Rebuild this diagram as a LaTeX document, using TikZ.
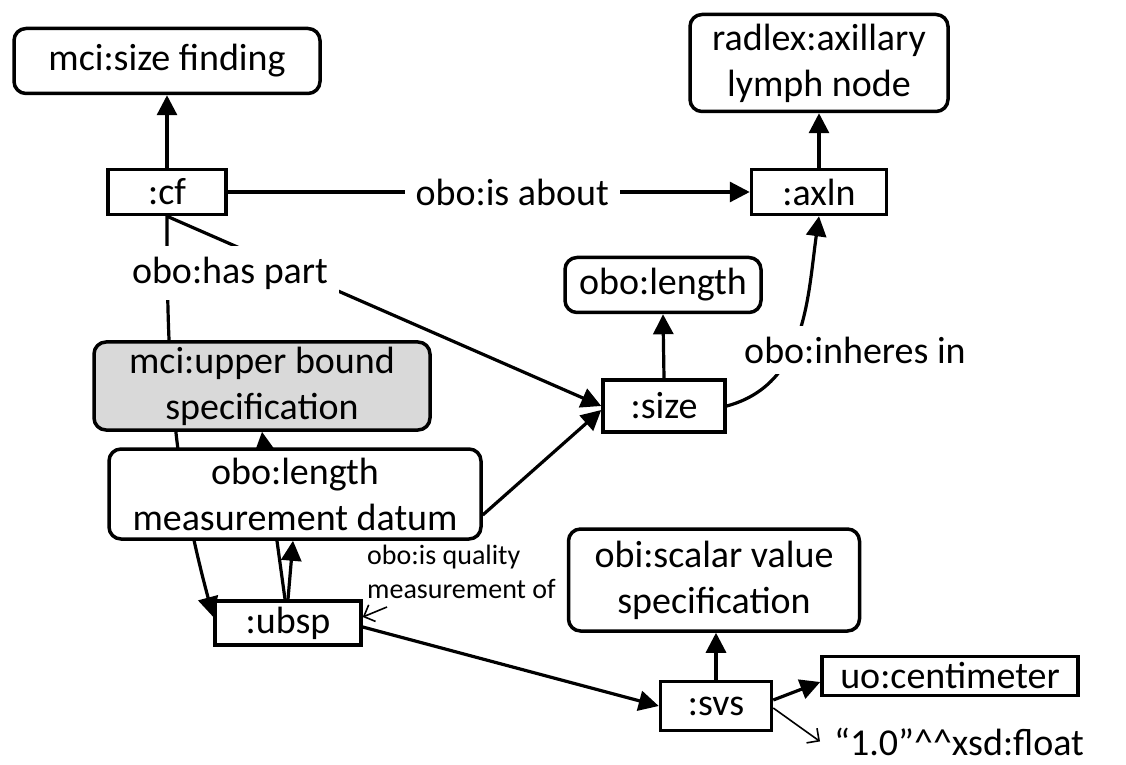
\documentclass[tikz,border=0pt]{standalone}
\usepackage{fontspec}
\setmainfont{Carlito}
\usetikzlibrary{arrows.meta,backgrounds}
\definecolor{boundgray}{HTML}{D9D9D9}
\begin{document}
\begin{tikzpicture}[x=1pt,y=1pt,
  big/.style={font=\fontsize{38}{46}\selectfont},
  box/.style={big,draw,line width=3.5pt,fill=white,inner sep=0pt,align=center},
  rbox/.style={box,rounded corners=12pt},
  lbl/.style={big,fill=white,inner sep=11pt},
  arr/.style={line width=3.2pt,-{Triangle[length=20pt,width=20pt]}},
  thinarr/.style={line width=1.6pt,-{Straight Barb[length=9pt,width=18pt]}}]
\useasboundingbox (0,0) rectangle (1126,764);

% classes and individuals
\node[rbox,minimum width=306pt,minimum height=65pt] (sizefinding) at (167,703) {mci:size finding};
\node[box,minimum width=118pt,minimum height=45pt] (cf) at (167,572) {:cf};
\node[rbox,minimum width=258pt,minimum height=97pt] (radlex) at (819,701) {radlex:axillary\\lymph node};
\node[box,minimum width=135pt,minimum height=45pt] (axln) at (819,572) {:axln};
\node[rbox,minimum width=196pt,minimum height=55pt] (length) at (663,479) {obo:length};
\node[box,minimum width=122pt,minimum height=52pt] (size) at (664,358) {:size};
\node[rbox,fill=boundgray,minimum width=336pt,minimum height=88pt] (ubs) at (262,378) {mci:upper bound\\specification};
\node[rbox,minimum width=372pt,minimum height=90pt] (lmd) at (295,270) {obo:length\\measurement datum};
\node[box,minimum width=146pt,minimum height=44pt] (ubsp) at (288,141) {:ubsp};
\node[rbox,minimum width=291pt,minimum height=102pt] (scalar) at (714,184) {obi:scalar value\\specification};
\node[box,minimum width=111pt,minimum height=49pt] (svs) at (716,58) {:svs};
\node[box,minimum width=256pt,minimum height=39pt] (cm) at (950,88) {uo:centimeter};
\node[big,anchor=base west,inner xsep=14pt,inner ysep=0pt] (float) at (820,9) {“1.0”\^{}\^{}xsd:float};

% property labels
\node[lbl] (haspart) at (230,491) {obo:has part};
\node[lbl] (inheres) at (855,414) {obo:inheres in};
\node[font=\fontsize{28}{34}\selectfont,align=left,anchor=west,inner sep=4pt] (quality) at (363,192) {obo:is quality\\measurement of};
\coordinate (qualityfoot) at (387,157);

% connectors, kept behind the boxes
\begin{pgfonlayer}{background}
\draw[arr] (cf.north) -- (sizefinding.south);
\draw[arr] (cf.east) -- node[lbl,pos=0.545] (isabout) {obo:is about} (axln.west);
\draw[arr] (axln.north) -- (radlex.south);
\draw[arr] (cf.south) -- (size.west);
\draw[arr] (cf.south) to[out=-90,in=105] ([yshift=6pt]ubsp.west);
\draw[arr] ([yshift=-21pt]lmd.east) -- ([yshift=-4pt]size.west);
\draw[arr] (size.north) -- (length.south);
\draw[arr] (size.east) to[out=15,in=-98] (axln.south);
\draw[arr] ([xshift=-3pt]ubsp.north) -- (ubs.south);
\draw[arr] (ubsp.north) -- ([xshift=-2pt]lmd.south);
\draw[arr] ([yshift=-4pt]ubsp.east) -- (svs.west);
\draw[arr] (svs.north) -- (svs.north |- scalar.south);
\draw[arr] ([yshift=6pt]svs.east) -- ([yshift=-6pt]cm.west);
\draw[thinarr] ([yshift=-2pt]svs.east) -- (float.west);
\draw[thinarr] (qualityfoot) -- ([yshift=6pt]ubsp.east);
\end{pgfonlayer}
\end{tikzpicture}
\end{document}
